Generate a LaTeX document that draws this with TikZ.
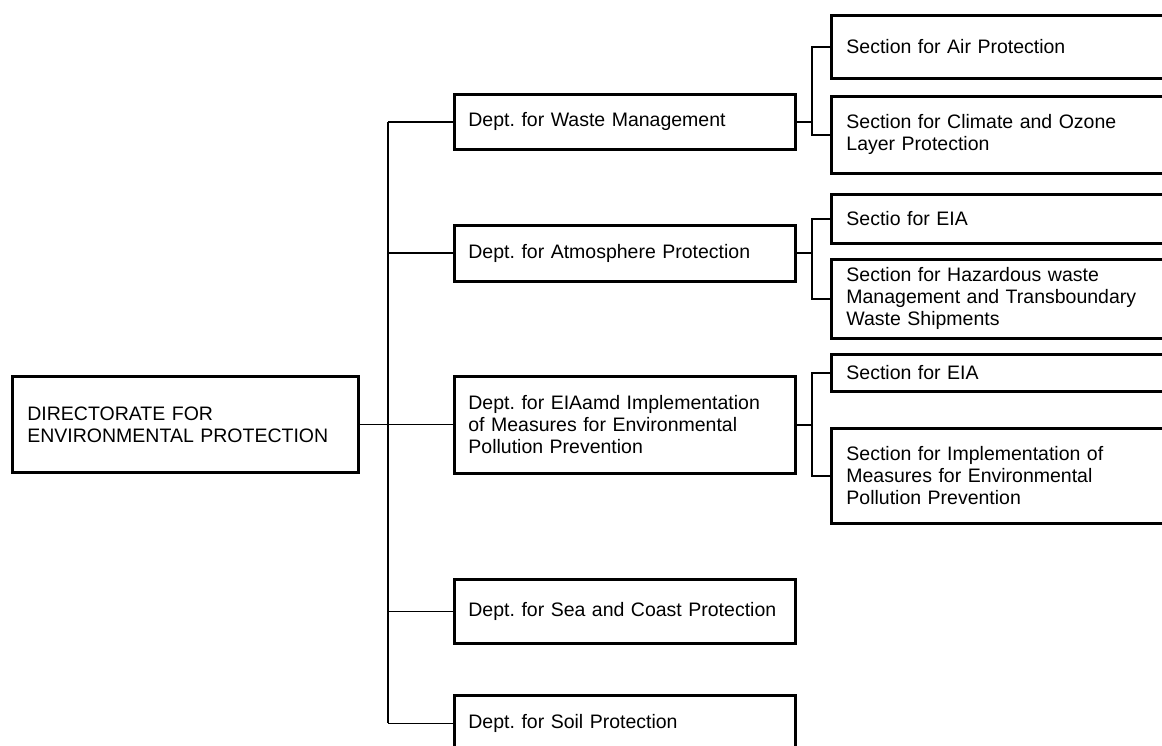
\documentclass[tikz,border=0pt]{standalone}
\usepackage{fontspec}
\setmainfont{Liberation Sans}
\frenchspacing
\begin{document}
\begin{tikzpicture}[x=1pt,y=-1pt,
  box/.style={draw, line width=2.8pt, rectangle, inner ysep=0pt, align=left,
    font=\fontsize{19.5}{22}\selectfont, anchor=north west},
  topbox/.style={box, inner xsep=15pt, text width=316pt},
  deptbox/.style={box, inner xsep=14pt, text width=313pt},
  secbox/.style={box, inner xsep=15pt, text width=315pt},
  link/.style={line width=1.8pt}]
\useasboundingbox (0,0) rectangle (1162,746);

% directorate
\node[topbox, minimum height=96pt] (dir) at (11,375)
  {DIRECTORATE FOR\\ENVIRONMENTAL PROTECTION};

% departments
\node[deptbox, minimum height=55pt] (dwaste) at (453,93) {Dept. for Waste Management};
\node[deptbox, minimum height=56pt] (datmo) at (453,224) {Dept. for Atmosphere Protection};
\node[deptbox, minimum height=97pt] (deia) at (453,375)
  {Dept. for EIAamd Implementation\\of Measures for Environmental\\Pollution Prevention};
\node[deptbox, minimum height=64pt] (dsea) at (453,578) {Dept. for Sea and Coast Protection};
\node[deptbox, minimum height=56pt] (dsoil) at (453,694) {Dept. for Soil Protection};

% sections
\node[secbox, minimum height=63pt] (sair) at (830,14) {Section for Air Protection};
\node[secbox, minimum height=77pt] (sclim) at (830,95)
  {Section for Climate and Ozone\\Layer Protection};
\node[secbox, minimum height=49pt] (seia) at (830,193) {Sectio for EIA};
\node[secbox, minimum height=79pt] (shaz) at (830,258)
  {Section for Hazardous waste\\Management and Transboundary\\Waste Shipments};
\node[secbox, minimum height=37pt] (seiab) at (830,353) {Section for EIA};
\node[secbox, minimum height=95pt] (simpl) at (830,427)
  {Section for Implementation of\\Measures for Environmental\\Pollution Prevention};

% trunk from directorate to departments
\coordinate (trunk) at (388,0);
\draw[link] (dir.east) -- (dir.east -| deia.west);
\foreach \d in {dwaste,datmo,dsea,dsoil}
  \draw[link] (\d.west) -- (\d.west -| trunk);
\draw[link] (dwaste.west -| trunk) -- (dsoil.west -| trunk);

% branches from departments to sections
\coordinate (sub) at (812,0);
\foreach \d/\a/\b in {dwaste/sair/sclim, datmo/seia/shaz, deia/seiab/simpl}{
  \draw[link] (\d.east) -- (\d.east -| sub);
  \draw[link] (\a.west) -- (\a.west -| sub) -- (\b.west -| sub) -- (\b.west);
}
\end{tikzpicture}
\end{document}
